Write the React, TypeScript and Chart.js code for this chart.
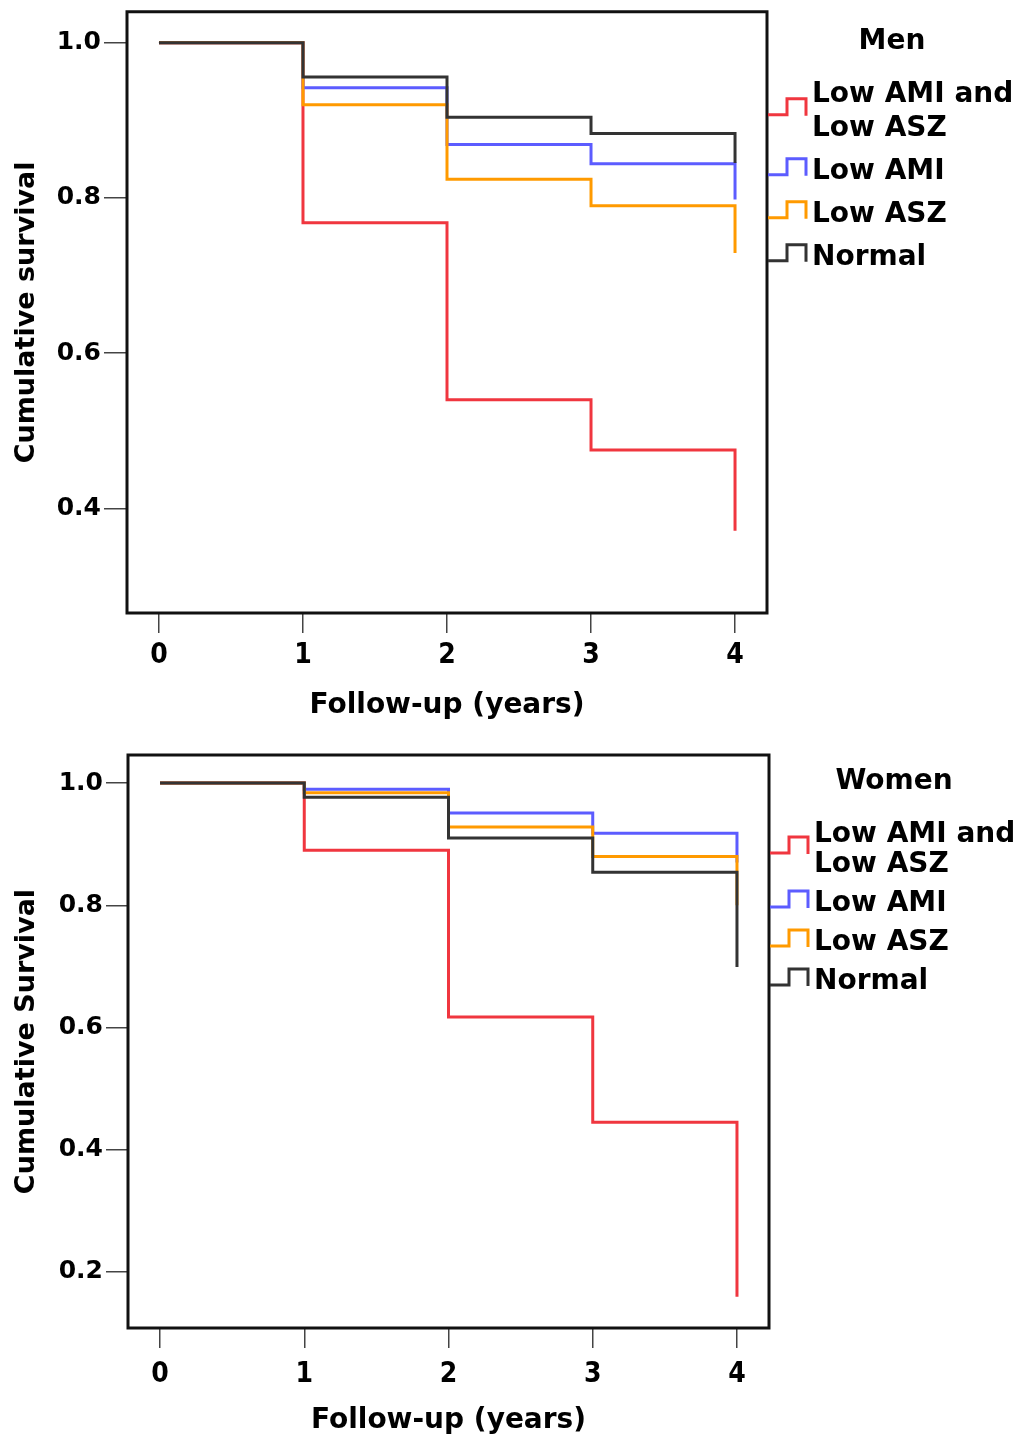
import React, { useEffect, useRef } from "react";
import { Chart, registerables } from "chart.js";

Chart.register(...registerables);

// Follow-up time points (years)
const years = [0, 1, 2, 3, 4];
const xTicks = [0, 1, 2, 3, 4];
const menYTicks = [0.4, 0.6, 0.8, 1.0];
const womenYTicks = [0.2, 0.4, 0.6, 0.8, 1.0];

// Group labels (legend lines) and colours
const groupLabels = [["Low AMI and", "Low ASZ"], ["Low AMI"], ["Low ASZ"], ["Normal"]];
const groupColors = ["#f0363f", "#5c5cff", "#ff9a00", "#333333"];

// Cumulative survival at each follow-up year, men
const menLowAmiLowAsz = [1, 0.768, 0.54, 0.475, 0.371];
const menLowAmi = [1, 0.942, 0.869, 0.844, 0.798];
const menLowAsz = [1, 0.92, 0.824, 0.79, 0.729];
const menNormal = [1, 0.956, 0.904, 0.883, 0.845];

// Cumulative survival at each follow-up year, women
const womenLowAmiLowAsz = [1, 0.89, 0.617, 0.445, 0.159];
const womenLowAmi = [1, 0.99, 0.951, 0.918, 0.87];
const womenLowAsz = [1, 0.984, 0.928, 0.88, 0.8];
const womenNormal = [1, 0.977, 0.91, 0.854, 0.699];

const BOLD = "'DejaVu Sans', sans-serif";
const NARROW = "'Liberation Sans Narrow', 'DejaVu Sans Condensed', 'Liberation Sans', sans-serif";

type Panel = {
  title: string;
  yTitle: string;
  series: number[][];
  yTicks: number[];
  yMin: number;
  yMax: number;
  pad: { top: number; right: number };
  yAxisWidth: number;
  xAxisHeight: number;
  xTickPad: number;
  yTickLen: number;
  xTitlePad: number;
  legend: { titleDy: number; firstDy: number; lineGap: number; entryGap: number };
};

const framePlugin = {
  id: "frame",
  afterDatasetsDraw(chart: any) {
    const { ctx, chartArea: a } = chart;
    ctx.save();
    ctx.strokeStyle = "#111";
    ctx.lineWidth = 3;
    ctx.strokeRect(a.left, a.top, a.right - a.left, a.bottom - a.top);
    ctx.restore();
  },
};

const stepLegendPlugin = {
  id: "stepLegend",
  afterDraw(chart: any, _args: any, opts: any) {
    const { ctx, chartArea: a } = chart;
    const L = opts.layout;
    ctx.save();
    ctx.fillStyle = "#000";
    ctx.font = `bold 28px ${BOLD}`;
    ctx.textBaseline = "middle";
    ctx.textAlign = "center";
    ctx.fillText(opts.title, a.right + 125, a.top + L.titleDy);
    ctx.textAlign = "left";
    let y = a.top + L.firstDy;
    chart.data.datasets.forEach((ds: any) => {
      const lines: string[] = ds.labelLines;
      const mid = y + ((lines.length - 1) * L.lineGap) / 2;
      // step-shaped key
      const x0 = a.right + 1;
      const top = mid - 13;
      const bot = mid + 3;
      ctx.strokeStyle = ds.borderColor;
      ctx.lineWidth = 3;
      ctx.beginPath();
      ctx.moveTo(x0, bot);
      ctx.lineTo(x0 + 19, bot);
      ctx.lineTo(x0 + 19, top);
      ctx.lineTo(x0 + 38, top);
      ctx.lineTo(x0 + 38, bot + 1);
      ctx.stroke();
      ctx.fillStyle = "#000";
      lines.forEach((t, k) => ctx.fillText(t, a.right + 45, y + k * L.lineGap));
      y += (lines.length - 1) * L.lineGap + L.entryGap;
    });
    ctx.restore();
  },
};

function SurvivalPanel({ p }: { p: Panel }) {
  const ref = useRef<HTMLCanvasElement | null>(null);
  useEffect(() => {
    if (!ref.current) return;
    const drawOrder = [4, 3, 2, 1];
    const chart = new Chart(ref.current, {
      type: "line",
      data: {
        datasets: p.series.map((vals, i) => ({
          label: groupLabels[i].join(" "),
          labelLines: groupLabels[i],
          data: years.map((x, k) => ({ x, y: vals[k] })),
          borderColor: groupColors[i],
          backgroundColor: groupColors[i],
          borderWidth: 3,
          pointRadius: 0,
          stepped: true,
          fill: false,
          order: drawOrder[i],
        })) as any,
      },
      options: {
        animation: false,
        responsive: false,
        layout: { padding: { left: 0, top: p.pad.top, right: p.pad.right, bottom: 0 } },
        plugins: {
          legend: { display: false },
          tooltip: { enabled: false },
          stepLegend: { title: p.title, layout: p.legend },
        } as any,
        scales: {
          x: {
            type: "linear",
            min: -0.222,
            max: 4.222,
            afterBuildTicks: (s: any) => {
              s.ticks = xTicks.map((v) => ({ value: v }));
            },
            afterFit: (s: any) => {
              s.height = p.xAxisHeight;
            },
            grid: { drawOnChartArea: false, drawTicks: true, tickLength: 20, color: "#444", lineWidth: 1.5 },
            border: { display: false },
            ticks: {
              color: "#000",
              padding: p.xTickPad,
              maxRotation: 0,
              font: { family: NARROW, size: 28, weight: "bold", lineHeight: 1.2 },
              callback: (v: any) => String(v),
            },
            title: {
              display: true,
              text: "Follow-up (years)",
              color: "#000",
              font: { family: BOLD, size: 28, weight: "bold", lineHeight: 1.0 },
              padding: { top: 0, bottom: p.xTitlePad },
            },
          },
          y: {
            type: "linear",
            min: p.yMin,
            max: p.yMax,
            afterBuildTicks: (s: any) => {
              s.ticks = p.yTicks.map((v) => ({ value: v }));
            },
            afterFit: (s: any) => {
              s.width = p.yAxisWidth;
            },
            grid: { drawOnChartArea: false, drawTicks: true, tickLength: p.yTickLen, color: "#444", lineWidth: 1.5 },
            border: { display: false },
            ticks: {
              color: "#000",
              padding: 3,
              font: { family: BOLD, size: 25, weight: "bold", lineHeight: 0.7 },
              callback: (v: any) => Number(v).toFixed(1),
            },
            title: {
              display: true,
              text: p.yTitle,
              color: "#000",
              font: { family: BOLD, size: 27, weight: "bold" },
              padding: { top: 11, bottom: 0 },
            },
          },
        },
      },
      plugins: [framePlugin, stepLegendPlugin],
    });
    return () => chart.destroy();
  }, [p]);
  return <canvas ref={ref} width={1024} height={720} style={{ display: "block", width: 1024, height: 720 }} />;
}

const menPanel: Panel = {
  title: "Men",
  yTitle: "Cumulative survival",
  series: [menLowAmiLowAsz, menLowAmi, menLowAsz, menNormal],
  yTicks: menYTicks,
  yMin: 0.265,
  yMax: 1.04,
  pad: { top: 10, right: 257 },
  yAxisWidth: 127,
  xAxisHeight: 107,
  xTickPad: 6,
  yTickLen: 23,
  xTitlePad: 0,
  legend: { titleDy: 30, firstDy: 83, lineGap: 34, entryGap: 43 },
};

const womenPanel: Panel = {
  title: "Women",
  yTitle: "Cumulative Survival",
  series: [womenLowAmiLowAsz, womenLowAmi, womenLowAsz, womenNormal],
  yTicks: womenYTicks,
  yMin: 0.108,
  yMax: 1.046,
  pad: { top: 35, right: 255 },
  yAxisWidth: 128,
  xAxisHeight: 112,
  xTickPad: 10,
  yTickLen: 22,
  xTitlePad: 5,
  legend: { titleDy: 27, firstDy: 80, lineGap: 30, entryGap: 39 },
};

export default function App() {
  return (
    <div style={{ position: "absolute", left: 0, top: 0, width: 1024, height: 1440, background: "#fff" }}>
      <SurvivalPanel p={menPanel} />
      <SurvivalPanel p={womenPanel} />
    </div>
  );
}
